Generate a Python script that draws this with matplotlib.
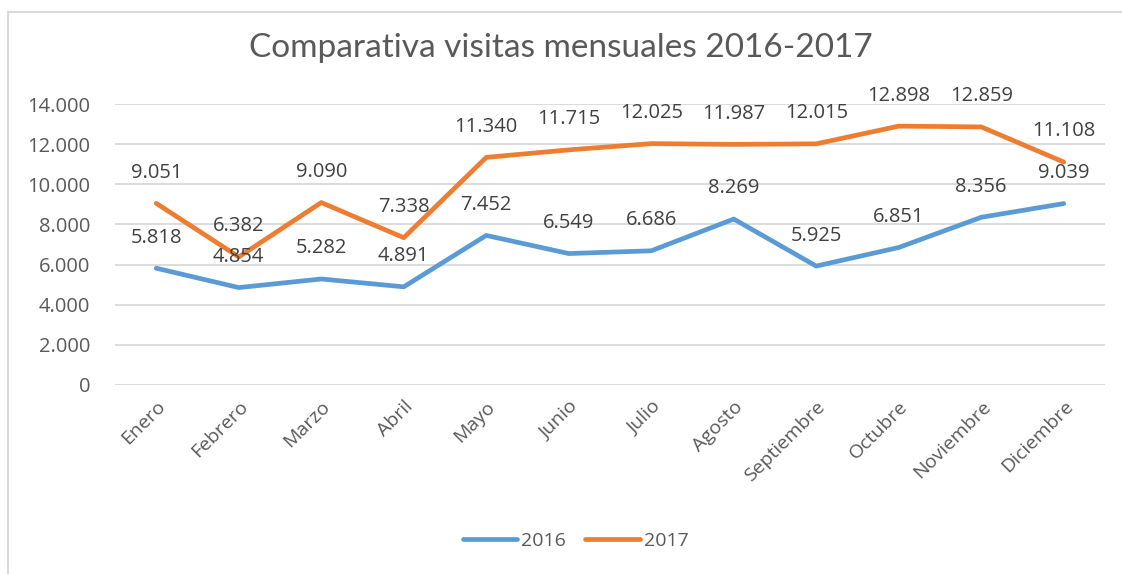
import matplotlib.pyplot as plt
from matplotlib.patches import Rectangle

meses = ["Enero", "Febrero", "Marzo", "Abril", "Mayo", "Junio", "Julio",
         "Agosto", "Septiembre", "Octubre", "Noviembre", "Diciembre"]
visitas_2016 = [5818, 4854, 5282, 4891, 7452, 6549, 6686, 8269, 5925, 6851, 8356, 9039]
visitas_2017 = [9051, 6382, 9090, 7338, 11340, 11715, 12025, 11987, 12015, 12898, 12859, 11108]
yticks = [0, 2000, 4000, 6000, 8000, 10000, 12000, 14000]

AZUL = "#5B9BD5"
NARANJA = "#ED7D31"
GRIS = "#595959"
FUENTE = ["Open Sans", "DejaVu Sans"]


def fmt_miles(v):
    return f"{v:,.0f}".replace(",", ".")


fig = plt.figure(figsize=(11.22, 5.74), dpi=100)
fig.patches.append(Rectangle((7.5 / 1122, -0.1), 1.2, 1 - 12.5 / 574 + 0.1,
                             transform=fig.transFigure, fill=False,
                             edgecolor="#D9D9D9", linewidth=1.5))

ax = fig.add_axes([115 / 1122, 1 - 385 / 574, (1105 - 115) / 1122, (385 - 104) / 574])
x = list(range(len(meses)))

ax.plot(x, visitas_2016, color=AZUL, linewidth=3.4, solid_capstyle="round",
        solid_joinstyle="round", label="2016", zorder=3)
ax.plot(x, visitas_2017, color=NARANJA, linewidth=3.4, solid_capstyle="round",
        solid_joinstyle="round", label="2017", zorder=3)

for serie in (visitas_2016, visitas_2017):
    for xi, v in zip(x, serie):
        ax.annotate(fmt_miles(v), (xi, v), xytext=(0, 22), textcoords="offset points",
                    ha="center", va="center", fontsize=14.5, color="#404040",
                    family=FUENTE, zorder=4)

ax.set_xlim(-0.5, len(meses) - 0.5)
ax.set_ylim(0, 14000)
ax.set_yticks(yticks)
ax.set_yticklabels([fmt_miles(v) for v in yticks], family=FUENTE, fontsize=14.5, color=GRIS)
ax.set_xticks(x)
ax.set_xticklabels(meses, rotation=45, ha="right", rotation_mode="anchor",
                   family=FUENTE, fontsize=14, color=GRIS)
ax.tick_params(axis="x", length=0, pad=9)
ax.tick_params(axis="y", length=0, pad=18)
ax.grid(axis="y", color="#D9D9D9", linewidth=1.3)
ax.set_axisbelow(True)
for s in ax.spines.values():
    s.set_visible(False)

fig.text(0.5, 1 - 48 / 574, "Comparativa visitas mensuales 2016-2017", ha="center",
         va="center", fontsize=24, color=GRIS, family=["Lato", "DejaVu Sans"])

fig.legend(loc="center", bbox_to_anchor=(0.513, 1 - 541 / 574), ncol=2, frameon=False,
           prop={"family": FUENTE, "size": 14}, labelcolor=GRIS, handlelength=2.8,
           columnspacing=1.0, handletextpad=0.2)

fig.savefig("out.png", dpi=100)
